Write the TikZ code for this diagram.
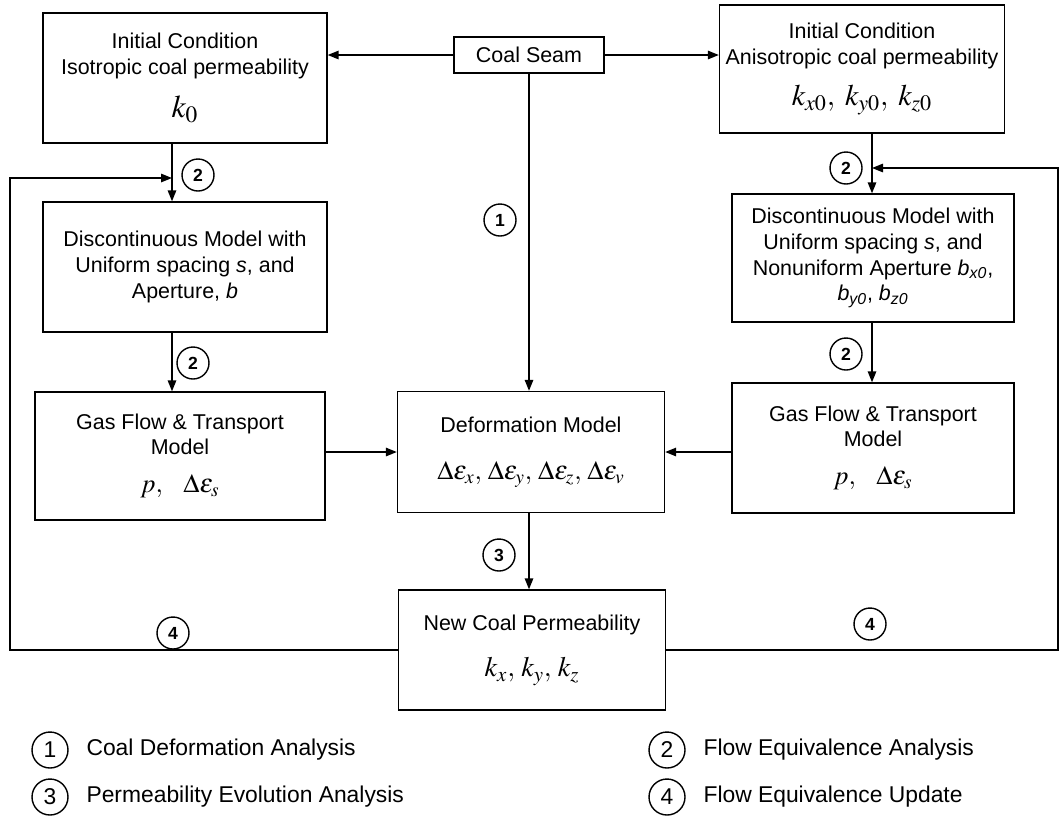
\documentclass[tikz,border=0pt]{standalone}
\usepackage{mathptmx}
\usepackage[no-math]{fontspec}
\setmainfont{Liberation Sans}
\usetikzlibrary{arrows.meta, positioning, calc}
\tikzset{
	blk/.style ={rectangle, draw=black, line width=0.8pt, align=center, inner sep=2pt},
	numc/.style={circle, draw=black, line width=0.8pt, minimum size=0.64cm, inner sep=0pt, font=\bfseries},
	legc/.style={circle, draw=black, line width=0.8pt, minimum size=0.72cm, inner sep=0pt, font=\fontsize{13}{15}\selectfont},
	legt/.style={inner sep=0pt, font=\fontsize{13}{15}\selectfont},
	sig/.style ={-{Triangle[length=2.2mm, width=1.7mm]}, line width=0.8pt},
}
\newcommand{\mth}[2]{{\fontsize{#1}{#1}\selectfont$#2$}}

\begin{document}
\begin{tikzpicture}[x=0.02cm, y=-0.02cm, font=\fontsize{12.2}{14.6}\selectfont]
	\fill[white] (0,0) rectangle (1060,816);
	\useasboundingbox (0,0) rectangle (1060,816);
	% boxes
	\node[blk, minimum width=3.0cm, minimum height=0.72cm] (cs) at (529,55) {Coal Seam};
	\node[blk, minimum width=5.68cm, minimum height=2.6cm] (ic1) at (185,78)
		{Initial Condition\\Isotropic coal permeability\\[9pt]\mth{18}{k_0}};
	\node[blk, minimum width=5.7cm, minimum height=2.56cm] (ic2) at (862,69)
		{Initial Condition\\Anisotropic coal permeability\\[9pt]\mth{17}{k_{x0},\; k_{y0},\; k_{z0}}};
	\node[blk, minimum width=5.68cm, minimum height=2.6cm] (dm1) at (185,267)
		{Discontinuous Model with\\Uniform spacing \textit{s}, and\\Aperture, \textit{b}};
	\node[blk, minimum width=5.64cm, minimum height=2.56cm] (dm2) at (873,258)
		{Discontinuous Model with\\Uniform spacing \textit{s}, and\\Nonuniform Aperture \textit{b}\textsubscript{\textit{x0}},\\\textit{b}\textsubscript{\textit{y0}}, \textit{b}\textsubscript{\textit{z0}}};
	\node[blk, minimum width=5.8cm, minimum height=2.56cm] (gf1) at (180,456)
		{Gas Flow \& Transport\\Model\\[7pt]\mth{15}{p,\;\;\;\Delta\varepsilon_s}};
	\node[blk, minimum width=5.34cm, minimum height=2.42cm] (df) at (531,452)
		{Deformation Model\\[12pt]\mth{15}{\Delta\varepsilon_x,\, \Delta\varepsilon_y,\, \Delta\varepsilon_z,\, \Delta\varepsilon_v}};
	\node[blk, minimum width=5.64cm, minimum height=2.6cm] (gf2) at (873,448)
		{Gas Flow \& Transport\\Model\\[7pt]\mth{15}{p,\;\;\;\Delta\varepsilon_s}};
	\node[blk, minimum width=5.34cm, minimum height=2.4cm] (ncp) at (532,650)
		{New Coal Permeability\\[12pt]\mth{16}{k_x,\, k_y,\, k_z}};
	% columns and feedback corners
	\coordinate (colL) at (172,0);
	\coordinate (colR) at (872,0);
	\coordinate (edgeL) at (10,178);
	\coordinate (fbL) at (172,178);
	\coordinate (edgeR) at (1058,168);
	\coordinate (fbR) at (872,168);
	% connectors
	\draw[sig] (cs.west) -- (cs.west -| ic1.east);
	\draw[sig] (cs.east) -- (cs.east -| ic2.west);
	\draw[sig] (cs.south) -- (cs.south |- df.north);
	\draw[sig] (ic1.south -| colL) -- (dm1.north -| colL);
	\draw[sig] (dm1.south -| colL) -- (gf1.north -| colL);
	\draw[sig] (ic2.south -| colR) -- (dm2.north -| colR);
	\draw[sig] (dm2.south -| colR) -- (gf2.north -| colR);
	\draw[sig] (df.west -| gf1.east) -- (df.west);
	\draw[sig] (df.east -| gf2.west) -- (df.east);
	\draw[sig] (df.south -| cs.south) -- (ncp.north -| cs.south);
	\draw[sig] (ncp.west) -| (edgeL) -- (fbL);
	\draw[sig] (ncp.east) -| (edgeR) -- (fbR);
	% step numbers
	\foreach \nm/\px/\py/\t in {c1/500/220/1, c2a/198/175/2, c2b/193/363/2, c2c/846/168/2,
		c2d/846/354/2, c3/499/555/3, c4a/173/633/4, c4b/870/624/4}
		\node[numc] (\nm) at (\px,\py) {\t};
	% legend
	\foreach \nm/\px/\py/\t/\lbl in {1/50/750/1/Coal Deformation Analysis, 2/667/750/2/Flow Equivalence Analysis,
		3/50/797/3/Permeability Evolution Analysis, 4/667/797/4/Flow Equivalence Update} {
		\node[legc] (l\nm) at (\px,\py) {\t};
		\node[legt, right=0.35cm of l\nm] (t\nm) {\lbl};
	}
\end{tikzpicture}
\end{document}
